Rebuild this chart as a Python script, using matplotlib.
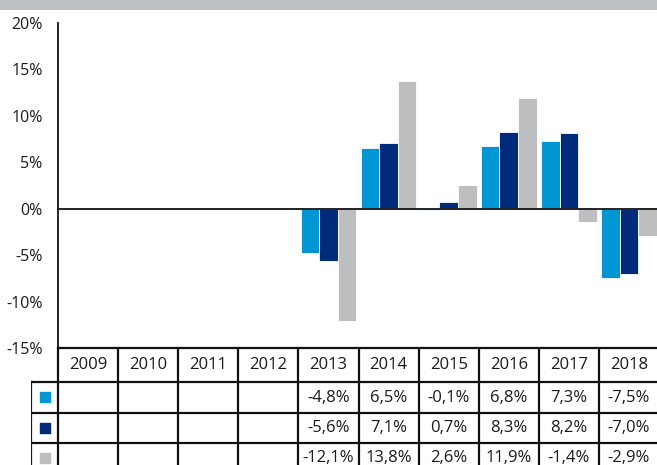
import matplotlib
matplotlib.use("Agg")
import matplotlib.pyplot as plt
import numpy as np
from matplotlib.patches import Rectangle

plt.rcParams['font.family'] = ['Open Sans', 'DejaVu Sans']

years = ["2009", "2010", "2011", "2012", "2013", "2014", "2015", "2016", "2017", "2018"]
series_a = [np.nan, np.nan, np.nan, np.nan, -4.8, 6.5, -0.1, 6.8, 7.3, -7.5]
series_b = [np.nan, np.nan, np.nan, np.nan, -5.6, 7.1, 0.7, 8.3, 8.2, -7.0]
series_c = [np.nan, np.nan, np.nan, np.nan, -12.1, 13.8, 2.6, 11.9, -1.4, -2.9]
series = [series_a, series_b, series_c]
colors = ["#0096D6", "#002A7A", "#BDBEC0"]
yticks = [-15, -10, -5, 0, 5, 10, 15, 20]

W, H = 657, 465
fig = plt.figure(figsize=(W / 100, H / 100), dpi=100)
TXT = "#1a1a1a"

def fx(px):
    return px / W

def fy(py):
    return 1 - py / H

# grey title band
fig.patches.append(Rectangle((0, fy(10)), 1, 10 / H, transform=fig.transFigure,
                             facecolor="#BEBFC1", edgecolor="none", zorder=0))

# main axes
ax_l, ax_r, ax_t, ax_b = 58, 659, 23, 348
ax = fig.add_axes([fx(ax_l), fy(ax_b), fx(ax_r - ax_l), (ax_b - ax_t) / H])
x = np.arange(len(years))
bw = 0.31
for i, (vals, c) in enumerate(zip(series, colors)):
    ax.bar(x + (i - 1) * bw, vals, width=bw, color=c, edgecolor="white", linewidth=0.6, zorder=2)
ax.set_xlim(-0.5, len(years) - 0.5)
ax.set_ylim(-15, 20)
ax.axhline(0, color="#222222", lw=1.4, zorder=3)
ax.set_yticks(yticks)
ax.set_yticklabels([f"{t}%" for t in yticks], fontsize=11.5, color=TXT)
ax.tick_params(axis="y", length=0, pad=11)
ax.set_xticks([])
for s in ["top", "right", "bottom"]:
    ax.spines[s].set_visible(False)
ax.spines["left"].set_color("#111111")
ax.spines["left"].set_linewidth(1.3)
ax.patch.set_alpha(0)

# table axes (x in category units, y in pixels)
leg_l = 31
col_w = (ax_r - ax_l) / len(years)
x_left = -0.5 - (ax_l - leg_l) / col_w
tb = fig.add_axes([fx(leg_l), 0, fx(ax_r - leg_l), fy(ax_b)])
tb.set_xlim(x_left, len(years) - 0.5)
tb.set_ylim(H, ax_b)
tb.axis("off")

row_lines = [348, 382, 413, 443, 474]
lw = 1.6
lc = "#111111"
# horizontal lines
tb.plot([-0.5, len(years) - 0.5], [row_lines[0]] * 2, color=lc, lw=lw, clip_on=False)
for yl in row_lines[1:]:
    tb.plot([x_left, len(years) - 0.5], [yl] * 2, color=lc, lw=lw, clip_on=True)
# vertical lines
for k in range(len(years) + 1):
    xv = -0.5 + k
    tb.plot([xv, xv], [row_lines[0], H + 10], color=lc, lw=lw, clip_on=True)
tb.plot([x_left, x_left], [row_lines[1], H + 10], color=lc, lw=lw, clip_on=True)

# header text
hy = (row_lines[0] + row_lines[1]) / 2
for k, yr in enumerate(years):
    tb.text(k, hy, yr, ha="center", va="center", fontsize=12, color=TXT)

# rows
for r, (vals, c) in enumerate(zip(series, colors)):
    cy = (row_lines[r + 1] + row_lines[r + 2]) / 2
    tb.scatter([(x_left - 0.5) / 2], [cy], marker="s", s=55, color=c, zorder=3, clip_on=False)
    for k, v in enumerate(vals):
        if np.isnan(v):
            continue
        tb.text(k, cy, f"{v:.1f}%".replace(".", ","), ha="center", va="center",
                fontsize=12, color=TXT)

fig.savefig("out.png", dpi=100)
